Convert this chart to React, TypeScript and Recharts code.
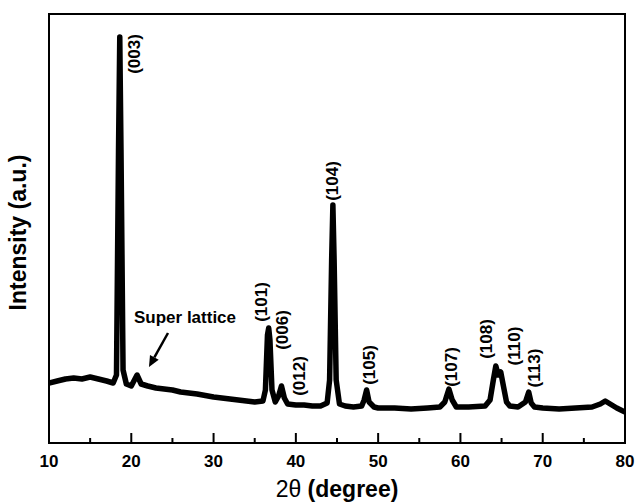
import { LineChart, Line, XAxis, YAxis, ReferenceArea, ReferenceDot, ReferenceLine } from 'recharts'

// 2θ positions (degree) and intensity (a.u.)
const twoTheta = [
  10, 11, 12, 13, 14, 15, 16, 17, 17.8, 18.2, 18.45, 18.6, 18.75, 19.0, 19.4, 20, 20.7, 21.2, 22, 23,
  24, 25, 26, 27, 28, 30, 32, 34, 35, 36, 36.3, 36.55, 36.7, 36.85, 37.1, 37.5, 37.9, 38.25, 38.6, 39,
  40, 41, 42, 43, 43.8, 44.1, 44.35, 44.5, 44.65, 44.9, 45.3, 46, 47, 48, 48.3, 48.6, 48.9, 49.5, 50, 52,
  54, 56, 57.5, 58.1, 58.6, 59.0, 59.5, 61, 63, 63.6, 64.0, 64.3, 64.6, 64.9, 65.2, 65.6, 66, 67, 67.9, 68.3,
  68.6, 69, 70, 72, 74, 76, 77, 77.6, 78.2, 79, 80,
]
const intensity = [
  60, 62, 64, 65, 64, 66, 64, 62, 60, 68, 293, 406, 293, 73, 59, 57, 68, 59, 57, 55,
  54, 53, 51, 50, 49, 46, 44, 42, 41, 42, 53, 108, 115, 103, 53, 41, 47, 57, 45, 39,
  38, 38, 37, 37, 40, 63, 183, 238, 183, 63, 39, 37, 36, 37, 43, 53, 41, 36, 35, 35,
  34, 35, 36, 41, 54, 43, 36, 36, 37, 43, 63, 77, 68, 71, 58, 41, 37, 36, 41, 51,
  40, 36, 35, 34, 35, 36, 39, 42, 39, 35, 31,
]

const xTicks = [10, 15, 20, 25, 30, 35, 40, 45, 50, 55, 60, 65, 70, 75, 80]

// Miller index labels: text, 2θ and intensity of the label centre
const peakNames = ['(003)', '(101)', '(006)', '(012)', '(104)', '(105)', '(107)', '(108)', '(110)', '(113)']
const peakLabelX = [20.45, 35.88, 38.35, 40.5, 44.51, 49.0, 58.97, 63.2, 66.63, 69.05]
const peakLabelY = [389, 141, 113, 67, 262, 78, 76, 104, 97, 75]

const data = twoTheta.map((t, i) => ({ t, v: intensity[i] }))

const FONT = '"Liberation Sans", Arial, sans-serif'

const XTick = (props: any) => {
  const { x, y, payload } = props
  const major = payload.value % 10 === 0
  return (
    <g>
      <line x1={x} x2={x} y1={y} y2={y - (major ? 10 : 5)} stroke="#000" strokeWidth={2} />
      {major && (
        <text x={x} y={y + 24} textAnchor="middle" fontFamily={FONT} fontWeight="bold" fontSize={17} fill="#000">
          {payload.value}
        </text>
      )}
    </g>
  )
}

const XTitle = (props: any) => {
  const vb = props.viewBox || { x: 49, y: 443, width: 576, height: 60 }
  return (
    <text x={vb.x + vb.width / 2} y={vb.y + 54} textAnchor="middle" fontFamily={FONT} fontSize={23} fill="#000">
      <tspan>2θ </tspan>
      <tspan fontWeight="bold">(degree)</tspan>
    </text>
  )
}

const YTitle = (props: any) => {
  const vb = props.viewBox || { x: 0, y: 14, width: 49, height: 429 }
  const cx = vb.x + 18
  const cy = vb.y + vb.height / 2 + 4
  return (
    <text
      x={cx}
      y={cy}
      transform={`rotate(-90 ${cx} ${cy})`}
      textAnchor="middle"
      dominantBaseline="central"
      fontFamily={FONT}
      fontWeight="bold"
      fontSize={23}
      fill="#000"
    >
      Intensity (a.u.)
    </text>
  )
}

const peakLabel = (name: string) => (p: any) => (
  <text
    x={p.cx}
    y={p.cy}
    transform={`rotate(-90 ${p.cx} ${p.cy})`}
    textAnchor="middle"
    dominantBaseline="central"
    fontFamily={FONT}
    fontWeight="bold"
    fontSize={17}
    fill="#000"
  >
    {name}
  </text>
)

const arrowShape = (p: any) => {
  const { x1, y1, x2, y2 } = p
  const ang = Math.atan2(y2 - y1, x2 - x1)
  const len = 11
  const w = 5
  const bx = x2 - len * Math.cos(ang)
  const by = y2 - len * Math.sin(ang)
  const px = -Math.sin(ang) * w
  const py = Math.cos(ang) * w
  return (
    <g>
      <line x1={x1} y1={y1} x2={bx} y2={by} stroke="#000" strokeWidth={2.5} />
      <polygon points={`${x2},${y2} ${bx + px},${by + py} ${bx - px},${by - py}`} fill="#000" />
    </g>
  )
}

export default function App() {
  return (
    <div style={{ position: 'absolute', left: 0, top: 0, background: '#fff' }}>
      <LineChart width={635} height={503} data={data} margin={{ top: 14, right: 10, bottom: 0, left: 0 }}>
        <XAxis
          dataKey="t"
          type="number"
          domain={[10, 80]}
          ticks={xTicks}
          interval={0}
          axisLine={false}
          tickLine={false}
          tickSize={0}
          tickMargin={0}
          tick={<XTick />}
          height={60}
          allowDataOverflow
          label={<XTitle />}
        />
        <YAxis type="number" domain={[0, 429]} width={49} tick={false} axisLine={false} tickLine={false} label={<YTitle />} allowDataOverflow />
        <ReferenceArea x1={10} x2={80} y1={0} y2={429} fill="none" stroke="#000" strokeWidth={2} fillOpacity={0} />
        <Line
          type="linear"
          dataKey="v"
          stroke="#000"
          strokeWidth={5.5}
          strokeLinejoin="round"
          dot={false}
          isAnimationActive={false}
        />
        {peakNames.map((n, i) => (
          <ReferenceDot key={n} x={peakLabelX[i]} y={peakLabelY[i]} r={0} shape={peakLabel(n)} />
        ))}
        <ReferenceDot
          x={26.53}
          y={126}
          r={0}
          shape={(p: any) => (
            <text x={p.cx} y={p.cy} textAnchor="middle" dominantBaseline="central" fontFamily={FONT} fontWeight="bold" fontSize={17} fill="#000">
              Super lattice
            </text>
          )}
        />
        <ReferenceLine segment={[{ x: 24.46, y: 110 }, { x: 22.15, y: 76 }]} shape={arrowShape} />
      </LineChart>
    </div>
  )
}
